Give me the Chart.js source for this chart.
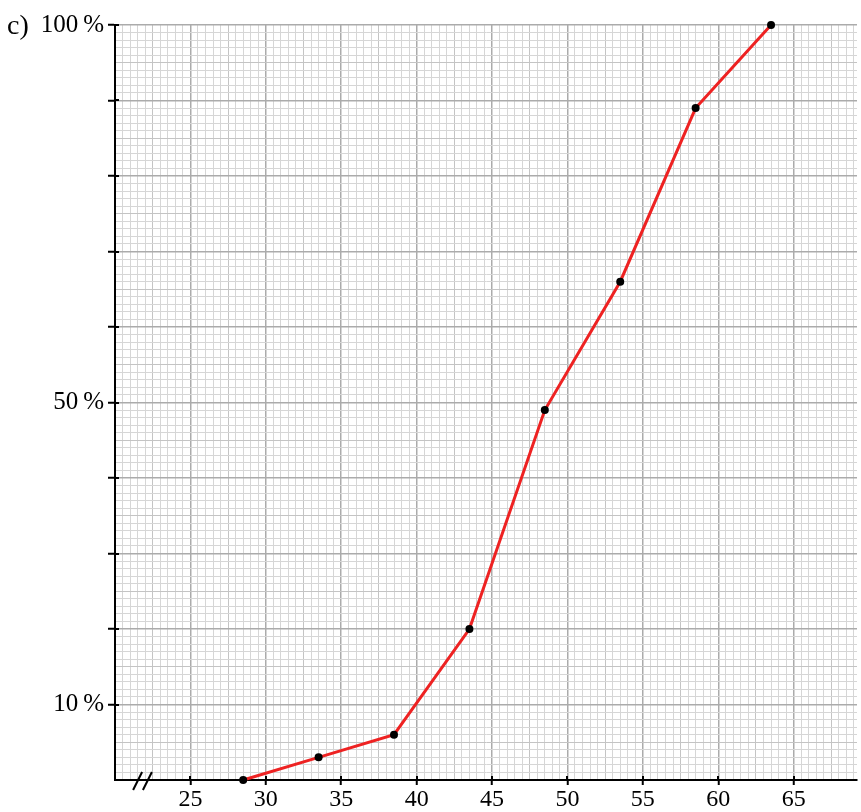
<!DOCTYPE html>
<html>
<head>
<meta charset="utf-8">
<script src="https://cdn.jsdelivr.net/npm/chart.js@4.4.0/dist/chart.umd.min.js"></script>
<style>
  html, body { margin: 0; padding: 0; background: #fff; }
  #wrap { width: 861px; height: 812px; position: relative; }
</style>
</head>
<body>
<div id="wrap"><canvas id="c" width="861" height="812"></canvas></div>
<script>
// Data
const xValues = [28.5, 33.5, 38.5, 43.5, 48.5, 53.5, 58.5, 63.5];
const cumulativePercent = [0, 3, 6, 20, 49, 66, 89, 100];
const xTickLabels = [25, 30, 35, 40, 45, 50, 55, 60, 65];
const yTickLabels = [10, 50, 100];
const partLabel = 'c)';

const points = xValues.map((x, i) => ({ x: x, y: cumulativePercent[i] }));
const SERIF = '"Liberation Serif", "DejaVu Serif", serif';

function isMult(v, m) { return Math.abs(v / m - Math.round(v / m)) < 1e-6; }

const extras = {
  id: 'extras',
  afterDraw(chart) {
    const ctx = chart.ctx;
    const xs = chart.scales.x, ys = chart.scales.y;
    const y0 = ys.getPixelForValue(0);
    const x0 = xs.left;
    ctx.save();
    ctx.strokeStyle = '#000';
    ctx.lineWidth = 2;
    for (let v = 10; v <= 100; v += 10) {
      const py = Math.round(ys.getPixelForValue(v));
      ctx.beginPath(); ctx.moveTo(x0, py); ctx.lineTo(x0 + 4, py); ctx.stroke();
    }
    xTickLabels.forEach(v => {
      const px = Math.round(xs.getPixelForValue(v));
      ctx.beginPath(); ctx.moveTo(px, y0); ctx.lineTo(px, y0 - 4); ctx.stroke();
    });
    // axis break mark
    [21.2, 21.85].forEach(v => {
      const px = xs.getPixelForValue(v);
      ctx.beginPath(); ctx.moveTo(px, y0 + 10); ctx.lineTo(px + 9, y0 - 8); ctx.stroke();
    });
    // part label
    ctx.fillStyle = '#000';
    ctx.font = '28px ' + SERIF;
    ctx.textAlign = 'left';
    ctx.textBaseline = 'alphabetic';
    ctx.fillText(partLabel, 7, 34);
    ctx.restore();
  }
};

new Chart(document.getElementById('c'), {
  type: 'line',
  data: {
    datasets: [{
      data: points,
      borderColor: '#ee2222',
      borderWidth: 3,
      pointBackgroundColor: '#000',
      pointBorderColor: '#000',
      pointRadius: 4,
      pointBorderWidth: 0,
      tension: 0,
      clip: false
    }]
  },
  options: {
    responsive: false,
    animation: false,
    devicePixelRatio: 1,
    layout: { padding: { top: 25, right: 0, left: 0, bottom: 0 } },
    plugins: { legend: { display: false }, tooltip: { enabled: false } },
    scales: {
      x: {
        type: 'linear',
        min: 20,
        max: 69.2,
        afterFit(scale) { scale.height = 32; },
        afterBuildTicks(scale) {
          const t = [];
          for (let v = 20; v <= 69.2 + 1e-6; v += 0.5) t.push({ value: Math.round(v * 10) / 10 });
          scale.ticks = t;
        },
        ticks: {
          autoSkip: false,
          maxRotation: 0,
          padding: 0,
          color: '#000',
          font: { family: SERIF, size: 24 },
          callback: (v) => (xTickLabels.includes(v) ? String(v) : '')
        },
        border: { color: '#000', width: 2 },
        grid: {
          drawTicks: true,
          tickLength: 5,
          color: (c) => {
            const v = c.tick.value;
            if (isMult(v, 5)) return '#ababab';
            if (isMult(v, 2.5)) return '#c4c4c4';
            return '#d6d6d6';
          },
          lineWidth: (c) => (isMult(c.tick.value, 5) ? 1.5 : 1),
          tickColor: (c) => (xTickLabels.includes(c.tick.value) ? '#000' : 'rgba(0,0,0,0)'),
          tickWidth: 2
        }
      },
      y: {
        type: 'linear',
        min: 0,
        max: 100,
        afterFit(scale) { scale.width = 115; },
        afterBuildTicks(scale) {
          const t = [];
          for (let v = 0; v <= 100; v += 1) t.push({ value: v });
          scale.ticks = t;
        },
        ticks: {
          autoSkip: false,
          padding: 4,
          color: '#000',
          font: { family: SERIF, size: 25 },
          callback: (v) => (yTickLabels.includes(v) ? v + '\u2009%' : '')
        },
        border: { color: '#000', width: 2 },
        grid: {
          drawTicks: true,
          tickLength: 7,
          color: (c) => {
            const v = c.tick.value;
            if (isMult(v, 10)) return '#ababab';
            if (isMult(v, 5)) return '#c4c4c4';
            return '#d6d6d6';
          },
          lineWidth: (c) => (isMult(c.tick.value, 10) ? 1.5 : 1),
          tickColor: (c) => (isMult(c.tick.value, 10) && c.tick.value > 0 ? '#000' : 'rgba(0,0,0,0)'),
          tickWidth: 2
        }
      }
    }
  },
  plugins: [extras]
});
</script>
</body>
</html>
